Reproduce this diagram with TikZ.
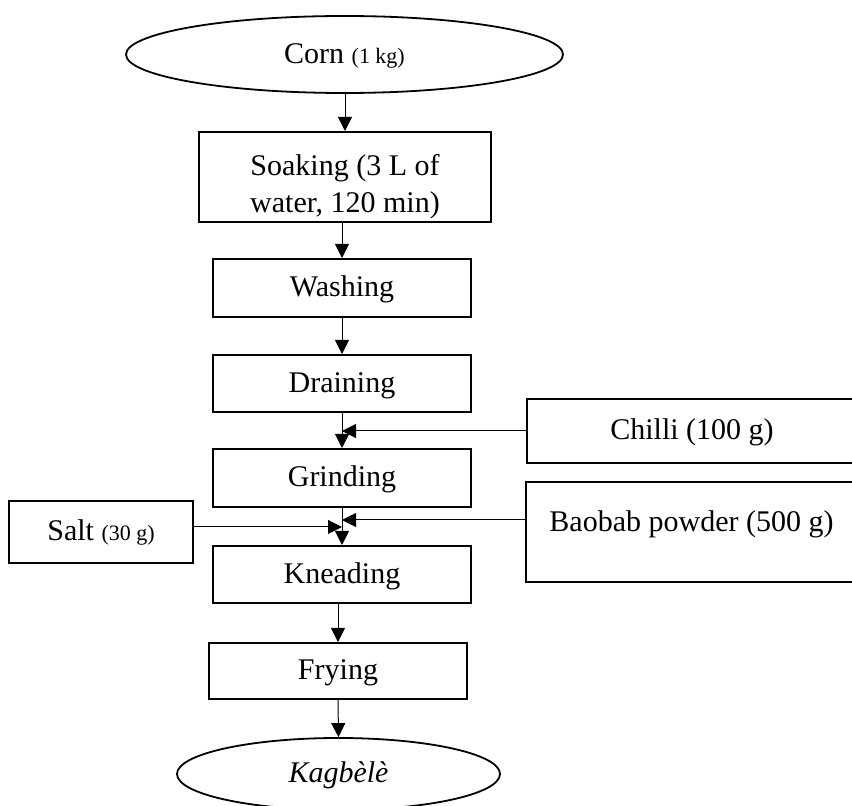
\documentclass[tikz,border=0pt]{standalone}
\usepackage{fontspec}
\setmainfont{Liberation Serif}
\usetikzlibrary{arrows.meta, shapes.geometric}
\newcommand{\amount}[1]{{\fontsize{11}{13}\selectfont #1}}

\begin{document}
\begin{tikzpicture}[x=0.5pt, y=-0.5pt,
    box/.style={draw, line width=1pt, inner sep=0pt, align=center, text height=10.5pt, text depth=1.5pt, font=\fontsize{15}{18.5}\selectfont},
    oval/.style={box, ellipse, line width=0.9pt},
    arr/.style={-{Triangle[length=7pt, width=7pt]}, line width=0.5pt}]
    \useasboundingbox (0,0) rectangle (852,806);

    \node[oval, minimum width=218.5pt, minimum height=38.5pt] (corn) at (344.5,54.5) {Corn \amount{(1 kg)}};
    \node[box, minimum width=146pt, minimum height=45pt, text height=35.5pt, text depth=0pt] (soaking) at (345,177) {Soaking (3 L of\\water, 120 min)};
    \node[box, minimum width=129pt, minimum height=29pt] (washing) at (342,288) {Washing};
    \node[box, minimum width=129pt, minimum height=28.5pt] (draining) at (342,383.5) {Draining};
    \node[box, minimum width=129pt, minimum height=29pt] (grinding) at (342,478) {Grinding};
    \node[box, minimum width=129pt, minimum height=28.5pt] (kneading) at (342,574.5) {Kneading};
    \node[box, minimum width=129pt, minimum height=28pt] (frying) at (338,671) {Frying};
    \node[oval, minimum width=161.5pt, minimum height=36pt] (kagbele) at (338.5,774) {\textit{Kagbèlè}};

    \node[box, minimum width=165pt, minimum height=32pt] (chilli) at (692,431) {Chilli (100 g)};
    \node[box, minimum width=165.5pt, minimum height=50pt, text height=11pt, text depth=11pt] (baobab) at (691.5,532) {Baobab powder (500 g)};
    \node[box, minimum width=92pt, minimum height=31pt] (salt) at (101,532) {Salt \amount{(30 g)}};

    \draw[arr] (soaking.north |- corn.south) -- (soaking.north);
    \draw[arr] (washing.north |- soaking.south) -- (washing.north);
    \draw[arr] (washing.south) -- (draining.north);
    \draw[arr] (draining.south) -- (grinding.north);
    \draw[arr] (grinding.south) -- (kneading.north);
    \draw[arr] (frying.north |- kneading.south) -- (frying.north);
    \draw[arr] (frying.south) -- (kagbele.north);

    \draw[arr] (chilli.west) -- (chilli.west -| draining.south);
    \draw[arr] (baobab.west |- 0,520) -- (grinding.south |- 0,520);
    \draw[arr] (salt.east |- 0,527) -- (grinding.south |- 0,527);
\end{tikzpicture}
\end{document}
